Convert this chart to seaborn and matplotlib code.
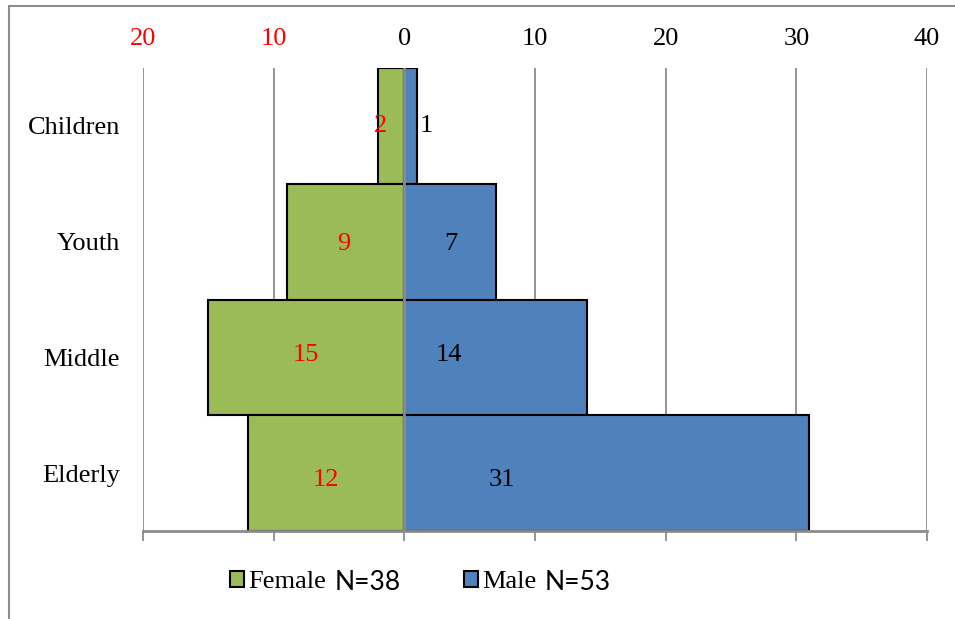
import matplotlib
matplotlib.use("Agg")
import matplotlib.pyplot as plt
from matplotlib.patches import Patch, Rectangle
import pandas as pd
import seaborn as sns

# %%
age_groups = ["Children", "Youth", "Middle", "Elderly"]
female = [2, 9, 15, 12]
male = [1, 7, 14, 31]
female_n = 38
male_n = 53

x_ticks = [-20, -10, 0, 10, 20, 30, 40]
x_tick_labels = ["20", "10", "0", "10", "20", "30", "40"]

# data labels were nudged by hand in the original, keep that placement
female_label_x = [-1.8, -4.6, -7.5, -6.0]
male_label_x = [1.7, 3.6, 3.4, 7.5]
label_y_shift = [0.0, 0.02, -0.02, 0.06]

green = "#9BBB59"
blue = "#4F81BD"
grey = "#8C8C8C"
fs = 19

sns.set_style("white")
plt.rcParams["font.family"] = ["Liberation Serif", "DejaVu Serif"]
plt.rcParams["text.color"] = "black"
plt.rcParams["xtick.labelcolor"] = "black"
plt.rcParams["ytick.labelcolor"] = "black"

df = pd.DataFrame(
    {"group": age_groups, "female": [-v for v in female], "male": male}
)

# %%
fig = plt.figure(figsize=(9.55, 6.19), dpi=100)
ax = fig.add_axes([143 / 955, 1 - 531 / 619, (927 - 143) / 955, (531 - 68) / 619])

for col, c in [("female", green), ("male", blue)]:
    sns.barplot(
        data=df,
        y="group",
        x=col,
        orient="h",
        color=c,
        saturation=1,
        edgecolor="black",
        linewidth=1.5,
        width=1,
        ax=ax,
        zorder=2,
    )

ax.axvline(0, color=grey, lw=2, zorder=5)

for i in range(len(age_groups)):
    ax.text(female_label_x[i], i + label_y_shift[i], str(female[i]),
            color="red", fontsize=fs, ha="center", va="center", zorder=6)
    ax.text(male_label_x[i], i + label_y_shift[i], str(male[i]),
            color="black", fontsize=fs, ha="center", va="center", zorder=6)

ax.set_xlim(-20, 40)
ax.set_ylim(len(age_groups) - 0.5, -0.5)
ax.set_xticks(x_ticks)
ax.set_xticklabels(x_tick_labels)

ax.xaxis.grid(True, color=grey, lw=1.3, zorder=0)
ax.set_axisbelow(True)
ax.set_xlabel("")
ax.set_ylabel("")

ax.tick_params(axis="x", bottom=True, top=False, labelbottom=False, labeltop=True,
               length=7, width=1.3, color=grey, pad=6, labelsize=fs)
ax.tick_params(axis="y", left=False, pad=13, labelsize=fs)

# female side of the scale is shown in red
for tick in ax.xaxis.get_major_ticks()[:2]:
    tick.label2.set_color("red")

sns.despine(ax=ax, left=True, top=True, right=True)
ax.spines["bottom"].set_color(grey)
ax.spines["bottom"].set_linewidth(2)

# outer chart border (only top and left visible in the original crop)
fig.patches.append(
    Rectangle((8.5 / 955, -0.2), 1.2, 1.2 - 6 / 619, transform=fig.transFigure,
              fill=False, edgecolor=grey, lw=1.5)
)

# %%
handles = [
    Patch(facecolor=green, edgecolor="black", lw=1.5),
    Patch(facecolor=blue, edgecolor="black", lw=1.5),
]
leg = fig.legend(
    handles,
    ["Female", "Male"],
    loc="center left",
    bbox_to_anchor=(206 / 955, 1 - 582 / 619),
    ncol=2,
    frameon=False,
    fontsize=fs,
    handlelength=0.55,
    handleheight=0.55,
    handletextpad=0.16,
    columnspacing=5.2,
)

fig.canvas.draw()
renderer = fig.canvas.get_renderer()
inv = fig.transFigure.inverted()
for txt, n in zip(leg.get_texts(), [female_n, male_n]):
    bb = txt.get_window_extent(renderer)
    x0, y0 = inv.transform((bb.x1 + 8, (bb.y0 + bb.y1) / 2))
    fig.text(x0, y0, f"N={n}", family=["Lato", "DejaVu Sans"], fontsize=fs,
             ha="left", va="center")

fig.savefig("out.png", dpi=100)
